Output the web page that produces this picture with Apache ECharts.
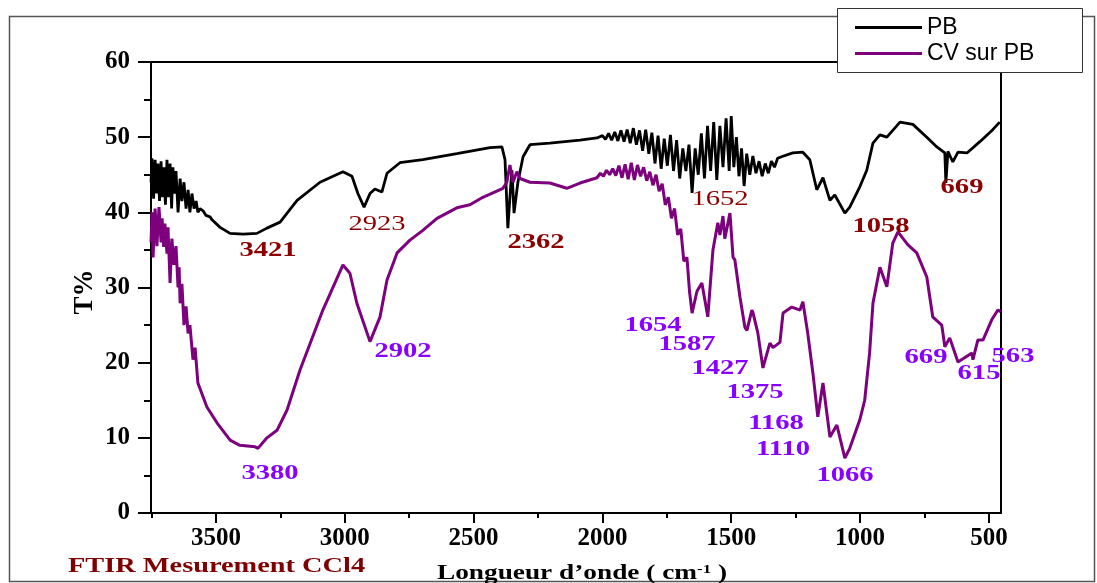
<!DOCTYPE html>
<html>
<head>
<meta charset="utf-8">
<script src="https://cdn.jsdelivr.net/npm/echarts@6/dist/echarts.min.js"></script>
<style>
html,body{margin:0;padding:0;background:#fff}
#main{width:1097px;height:583px}
</style>
</head>
<body>
<div id="main"></div>
<script>
// wavenumber (cm-1) / transmittance
const pbWave = [3752,3748,3742,3736,3730,3725,3719,3713,3707,3702,3696,3690,3684,3678,3672,3667,3661,3655,3647,3639,
  3632,3624,3616,3608,3601,3593,3585,3577,3570,3562,3550,3539,3523,3515,3484,3445,3395,3341,3302,3251,
  3185,3096,3007,2972,2949,2925,2902,2883,2856,2836,2786,2697,2565,2436,2390,2378,2367,2355,2351,2343,
  2328,2308,2281,2204,2087,2021,2000,1988,1976,1964,1952,1940,1928,1916,1904,1892,1880,1868,1856,1844,
  1832,1820,1808,1796,1784,1772,1760,1748,1736,1724,1712,1700,1688,1676,1664,1652,1640,1628,1616,1604,
  1592,1580,1568,1556,1544,1532,1520,1508,1500,1490,1480,1470,1460,1450,1440,1428,1416,1404,1392,1380,
  1368,1356,1344,1332,1320,1305,1261,1222,1195,1168,1144,1117,1098,1059,1040,1001,974,950,923,896,
  845,795,741,702,671,667,659,640,620,585,535,485,458];
const pbT = [44.0,47.2,41.8,47.0,42.5,46.5,41.5,46.8,42.0,46.0,41.0,47.0,42.0,46.5,40.5,46.0,42.5,45.5,40.0,44.5,
  41.5,44.0,40.5,43.0,40.0,42.5,40.5,41.5,40.0,40.5,40.2,39.6,39.4,39.0,38.0,37.2,37.1,37.2,37.9,38.7,
  41.6,44.0,45.4,44.8,42.5,40.7,42.5,43.1,42.7,45.2,46.6,47.0,47.8,48.6,48.7,47.0,37.9,44.0,45.6,39.9,
  44.0,47.4,49.0,49.2,49.6,49.9,50.2,49.7,50.5,49.6,50.7,49.5,50.9,49.4,51.0,49.2,51.2,49.0,50.9,48.2,
  51.0,47.8,50.6,46.5,50.2,45.8,49.8,46.2,50.3,45.5,49.6,44.5,48.5,45.5,49.0,42.6,48.5,45.0,50.5,44.5,
  51.5,45.5,52.0,44.3,51.5,46.0,52.5,45.5,52.8,46.0,50.0,44.8,48.5,43.5,47.8,45.0,47.5,45.2,46.8,44.8,
  46.5,45.2,46.8,46.0,47.2,47.4,47.9,48.0,47.0,43.0,44.6,41.6,42.3,39.9,40.7,43.4,45.6,49.2,50.3,50.0,
  52.0,51.7,50.0,48.7,47.9,43.9,48.1,46.7,48.0,47.9,49.4,51.0,52.0];

const cvWave = [3752,3748,3744,3736,3729,3721,3713,3709,3703,3698,3690,3686,3678,3671,3663,3655,3647,3643,3639,3632,
  3624,3616,3608,3601,3589,3581,3570,3535,3496,3445,3407,3348,3337,3302,3263,3224,3174,3085,3007,2980,
  2953,2902,2863,2836,2797,2747,2697,2642,2565,2514,2464,2386,2371,2359,2347,2332,2320,2281,2204,2138,
  2087,2021,2008,1996,1984,1972,1960,1948,1936,1924,1912,1900,1888,1876,1864,1852,1840,1828,1816,1804,
  1792,1780,1768,1756,1744,1732,1720,1708,1696,1684,1672,1662,1652,1633,1614,1591,1571,1552,1544,1532,
  1525,1505,1493,1486,1466,1447,1439,1420,1416,1397,1377,1350,1338,1311,1299,1265,1233,1222,1203,1183,
  1164,1144,1117,1090,1059,1040,1001,982,963,950,923,896,873,853,815,780,741,718,683,671,
  652,620,566,562,543,523,489,465,454];
const cvT = [36.0,40.0,34.0,40.5,35.5,40.7,36.0,39.2,35.4,38.5,34.5,38.0,30.6,36.5,33.0,35.5,30.0,32.7,27.9,30.5,
  25.0,27.5,23.9,25.0,20.4,22.0,17.3,14.1,12.0,9.7,9.0,8.8,8.6,10.0,11.0,13.7,19.0,27.0,33.0,31.9,
  27.9,22.8,26.1,31.0,34.6,36.3,37.6,39.2,40.6,41.0,42.0,43.2,44.0,46.3,44.0,45.4,44.5,44.0,43.9,43.2,
  43.9,44.6,45.2,44.8,45.6,45.0,45.8,44.9,46.2,44.6,46.4,44.4,46.6,44.3,46.3,44.8,46.0,44.2,45.4,43.6,
  45.0,42.8,43.8,41.0,42.0,39.2,40.5,37.0,37.8,33.5,34.0,29.5,26.6,29.5,30.6,26.1,35.0,38.6,37.0,39.5,
  36.5,39.9,34.0,33.7,28.7,24.7,24.3,27.0,26.7,24.0,19.3,22.6,22.0,22.7,26.6,27.4,27.0,28.1,23.9,18.6,
  12.8,17.3,10.1,11.7,7.3,8.6,12.4,15.0,21.3,27.9,32.7,30.1,35.9,37.4,35.7,34.6,31.4,26.1,25.0,22.1,
  23.3,20.1,21.3,20.4,23.0,23.0,25.7,27.0,26.8];

const majorTicks = [500,1000,1500,2000,2500,3000,3500];
const minorTicks = [750,1250,1750,2250,2750,3250,3750];

// peak labels: text, pixel centre, bold or not
const pbPeaks = [['3421',268,250,true],['2923',377,224,false],['2362',536,242,true],
  ['1652',720,199,false],['1058',881,226,true],['669',962,187,true]];
const cvPeaks = [['3380',270,473],['2902',403,351],['1654',653,325],['1587',687,344],['1427',720,368],
  ['1375',755,392],['1168',776,423],['1110',783,449],['1066',845,475],['669',926,357],['615',979,373],['563',1013,356]];

const serif = '"Liberation Serif","Times New Roman",serif';
const chart = echarts.init(document.getElementById('main'));

function peakText(t, x, y, color, bold) {
  return {
    type: 'text', x: x, y: y, scaleX: 1.3, z: 20,
    style: {
      text: t, fill: color, textAlign: 'center', textVerticalAlign: 'middle',
      align: 'center', verticalAlign: 'middle',
      font: (bold ? 'bold ' : '') + '22px ' + serif
    }
  };
}

const graphics = [
  {type: 'rect', z: 0, shape: {x: 9.5, y: 16.5, width: 1085, height: 565},
   style: {fill: 'none', stroke: '#555', lineWidth: 1.5}},
  {type: 'rect', z: 3, shape: {x: 837.5, y: 8.5, width: 245, height: 64},
   style: {fill: '#fff', stroke: '#333', lineWidth: 1}},
  {type: 'text', x: 85, y: 292, rotation: Math.PI / 2, z: 20,
   style: {text: 'T%', fill: '#000', font: 'bold 27px ' + serif, textAlign: 'center', textVerticalAlign: 'middle', align: 'center', verticalAlign: 'middle'}},
  {type: 'text', x: 68, y: 567, scaleX: 1.35, z: 20,
   style: {text: 'FTIR Mesurement CCl4', fill: '#7f0000', font: 'bold 21px ' + serif, textAlign: 'left', textVerticalAlign: 'middle', align: 'left', verticalAlign: 'middle'}},
  {type: 'text', x: 582, y: 574, scaleX: 1.3, z: 20,
   style: {text: 'Longueur d’onde ( cm{s|-1} )', fill: '#000', font: 'bold 21px ' + serif,
     textAlign: 'center', textVerticalAlign: 'middle', align: 'center', verticalAlign: 'middle',
     rich: {s: {fontSize: 13, fontWeight: 'bold', fontFamily: serif, verticalAlign: 'top', padding: [0, 0, 8, 0]}}}}
];
pbPeaks.forEach(p => graphics.push(peakText(p[0], p[1], p[2], '#8b0000', p[3])));
cvPeaks.forEach(p => graphics.push(peakText(p[0], p[1], p[2], '#8800ff', true)));

chart.setOption({
  animation: false,
  grid: {left: 151, right: 96, top: 62, bottom: 70, show: true, borderColor: '#000', borderWidth: 2},
  legend: {
    data: ['PB', 'CV sur PB'], orient: 'vertical', left: 850, top: 11, itemWidth: 67, itemHeight: 3,
    icon: 'rect', itemGap: 3, z: 10, selectedMode: false,
    textStyle: {fontFamily: '"Liberation Sans",Arial,sans-serif', fontSize: 23, color: '#000'}
  },
  xAxis: [{
    type: 'value', inverse: true, min: 453, max: 3752, position: 'bottom',
    axisLine: {lineStyle: {color: '#000', width: 2}},
    axisTick: {customValues: majorTicks, length: 10, lineStyle: {color: '#000', width: 2}},
    axisLabel: {customValues: majorTicks, formatter: v => String(v), fontFamily: serif, fontWeight: 'bold', fontSize: 25, color: '#000', margin: 13},
    splitLine: {show: false}
  }, {
    type: 'value', inverse: true, min: 453, max: 3752, position: 'bottom',
    axisLine: {show: false},
    axisTick: {customValues: minorTicks, length: 5, lineStyle: {color: '#000', width: 2}},
    axisLabel: {show: false},
    splitLine: {show: false}
  }],
  yAxis: {
    type: 'value', min: 0, max: 60, interval: 10,
    axisLine: {show: true, lineStyle: {color: '#000', width: 2}},
    axisTick: {length: 13, lineStyle: {color: '#000', width: 2}},
    minorTick: {show: true, splitNumber: 2, length: 7, lineStyle: {color: '#000', width: 2}},
    axisLabel: {fontFamily: serif, fontWeight: 'bold', fontSize: 25, color: '#000', margin: 21},
    splitLine: {show: false}
  },
  series: [{
    name: 'PB', type: 'line', symbol: 'none', xAxisIndex: 0,
    lineStyle: {color: '#000', width: 2.8}, itemStyle: {color: '#000'},
    data: pbWave.map((w, i) => [w, pbT[i]])
  }, {
    name: 'CV sur PB', type: 'line', symbol: 'none', xAxisIndex: 0,
    lineStyle: {color: '#7d007d', width: 3}, itemStyle: {color: '#7d007d'},
    data: cvWave.map((w, i) => [w, cvT[i]])
  }],
  graphic: graphics
});
</script>
</body>
</html>
